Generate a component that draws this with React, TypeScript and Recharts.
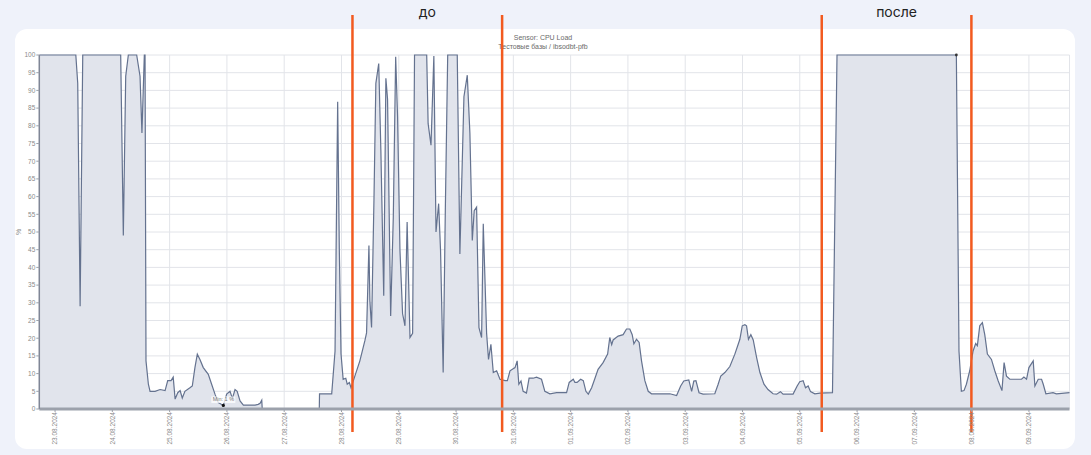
import React from 'react';
import {
  AreaChart,
  Area,
  XAxis,
  YAxis,
  CartesianGrid,
  ReferenceLine,
  ReferenceArea,
  ReferenceDot,
} from 'recharts';

// Hours since 23.08.2024 00:00
const hours: number[] = [
  -6.6, 8.7, 9.5, 10.5, 11.6, 27.5, 28.6, 29.6, 30.7, 34.2, 35.6, 36.4, 37.4, 37.7, 38.1, 39.1, 39.8,
  41.9, 44.0, 46.1, 47.2, 48.6, 49.5, 50.3, 51.4, 52.4, 53.3, 54.4, 56.5, 57.5, 58.6, 59.6, 60.7,
  62.1, 64.2, 65.6, 67.0, 68.4, 70.5, 71.9, 73.3, 74.3, 75.4, 76.3, 77.5, 78.9, 83.8, 85.1, 85.9,
  86.6, 86.8, 98.0, 110.7, 110.8, 115.9, 117.3, 118.4, 119.1, 119.8, 120.7, 121.8, 122.4, 123.3,
  124.0, 125.6, 127.7, 129.8, 130.5, 131.5, 131.9, 132.6, 133.6, 134.4, 135.6, 136.5, 137.7, 138.6,
  139.3, 140.6, 141.7, 142.7, 143.5, 144.5, 145.6, 146.6, 147.5, 148.7, 149.8, 150.6, 155.7, 156.3,
  157.5, 158.7, 159.6, 160.7, 161.5, 162.6, 163.5, 164.5, 168.5, 169.6, 171.3, 172.7, 173.8, 174.8,
  175.6, 176.6, 177.6, 178.7, 179.4, 180.8, 181.6, 182.6, 183.6, 185.0, 186.4, 188.5, 189.5, 190.6,
  192.7, 193.6, 194.3, 195.2, 196.1, 197.5, 198.6, 200.3, 201.7, 203.8, 205.2, 207.3, 210.1, 214.3,
  215.4, 217.1, 217.8, 218.7, 220.2, 221.3, 222.4, 223.4, 224.8, 226.2, 227.5, 229.6, 231.5, 232.4,
  233.2, 233.8, 235.9, 238.0, 239.4, 240.8, 241.8, 242.5, 243.6, 244.7, 245.7, 247.1, 248.5, 249.9,
  257.6, 260.4, 262.1, 263.4, 265.5, 266.7, 267.6, 268.5, 269.8, 271.5, 276.4, 277.8, 278.9, 280.6,
  282.7, 284.8, 286.2, 286.9, 287.9, 289.0, 289.7, 290.5, 291.5, 292.5, 293.9, 295.3, 297.0, 298.7,
  300.8, 302.3, 303.9, 305.0, 309.2, 310.9, 312.0, 313.4, 314.4, 315.5, 316.5, 318.3, 320.4, 325.7,
  327.6, 377.6, 378.7, 379.7, 380.8, 381.8, 383.2, 384.6, 385.7, 386.4, 387.4, 388.5, 389.5, 390.6,
  392.3, 393.7, 395.1, 396.7, 397.6, 398.6, 400.0, 404.9, 405.9, 407.0, 408.0, 409.8, 410.5, 411.9,
  413.3, 414.0, 415.1, 418.1, 419.5, 425.0,
];

// CPU load, %
const cpuLoad: (number | null)[] = [
  100, 100, 92, 29, 100, 100, 49, 94, 100, 100, 94, 78, 100, 100, 13.6, 7, 5,
  5, 5.5, 5.2, 8, 8, 9, 2.8, 4.6, 5.2, 3.1, 5, 6, 6.5, 11.7, 15.5, 14,
  11.7, 9.8, 7, 4.2, 1.8, 1, 4.2, 5, 3, 5.5, 5, 2.3, 1.1, 1.1, 1.3, 1.6,
  2.5, 0, null, 0, 4.3, 4.3, 16.4, 86.8, 44.8, 15.6, 8.4, 8.7, 7, 7.5,
  6, 9.3, 13.6, 19.3, 21.5, 46.2, 30.6, 23, 59, 92, 97.6, 73, 32, 93.4,
  87.5, 26.3, 54, 99.5, 82.5, 44.8, 26.9, 23.5, 52.8, 20.2, 21.4, 100, 100, 80.6,
  74.5, 99.7, 50, 58, 44.8, 10.3, 56, 100, 100, 43.8, 88.2, 94.3, 77.8, 47.6,
  56, 57, 23, 20.2, 52.3, 21.4, 14, 18.3, 10.3, 10.8, 8.4, 8, 8, 10.8,
  11.7, 13.6, 7, 7.9, 5, 4.5, 8.7, 8.7, 9, 8.4, 5, 4.3, 4.6, 4.6,
  7.5, 8.4, 7.5, 7.5, 8.4, 8, 5, 4.2, 6, 8.7, 11.2, 13.1, 15.5, 20.2,
  18.2, 19.5, 20.6, 21, 22.6, 22.6, 21, 18.4, 19.7, 18.8, 13.6, 8, 5, 4.3,
  4.3, 3.8, 6.5, 7.9, 8.2, 5, 7.9, 8, 4.6, 4.2, 4.3, 7, 9.3, 10.3,
  12, 15.5, 18.3, 19.7, 23.5, 23.8, 23.5, 19.7, 21, 19.5, 14.6, 10.3, 7, 5.5,
  4.3, 4.2, 4.9, 4.2, 4.2, 6.5, 7.7, 8, 6, 6.5, 4.9, 4.3, 4.5, 4.6,
  100, 100, 16.4, 5, 5.2, 7, 10.8, 16.4, 18.5, 17.9, 23.5, 24.4, 21, 15.5,
  14, 10.8, 8, 5.2, 13.1, 9.3, 8.4, 8.4, 9, 8.4, 11.7, 13.6, 6.5, 8.4,
  8.4, 7, 4.3, 4.6, 4.3, 4.6,
];

const dateLabels: string[] = [
  '23.08.2024', '24.08.2024', '25.08.2024', '26.08.2024', '27.08.2024', '28.08.2024',
  '29.08.2024', '30.08.2024', '31.08.2024', '01.09.2024', '02.09.2024', '03.09.2024',
  '04.09.2024', '05.09.2024', '06.09.2024', '07.09.2024', '08.09.2024', '09.09.2024',
];
const dateTickHours: number[] = [0, 24, 48, 72, 96, 120, 144, 168, 192, 216, 240, 264, 288, 312, 336, 360, 384, 408];

const yTicks: number[] = [0, 5, 10, 15, 20, 25, 30, 35, 40, 45, 50, 55, 60, 65, 70, 75, 80, 85, 90, 95, 100];

// Annotation markers (hours)
const markerHours: number[] = [124.6, 187.3, 321.2, 383.9];
const periodLabels = [
  { from: 124.6, to: 187.3, text: 'до' },
  { from: 321.2, to: 383.9, text: 'после' },
];
const minPoint = { h: 70.5, v: 1, label: 'Min: 1 %' };
const maxPoint = { h: 377.6, v: 100 };

const data = hours.map((h, i) => ({ h, v: cpuLoad[i] }));

const FONT = '"Liberation Sans", Arial, sans-serif';

const XTick = (props: any) => {
  const { x, y, payload } = props;
  const idx = dateTickHours.indexOf(payload.value);
  const label = idx >= 0 ? dateLabels[idx] : '';
  return (
    <g transform={`translate(${x},${y})`}>
      <text
        x={0}
        y={0}
        dy={2.3}
        transform="rotate(-90)"
        textAnchor="end"
        fontSize={6.5}
        fill="#8a8a8a"
        fontFamily={FONT}
      >
        {label}
      </text>
    </g>
  );
};

const MinLabel = (props: any) => {
  const vb = props.viewBox || {};
  const cx = vb.x + (vb.width || 0) / 2;
  const cy = vb.y + (vb.height || 0) / 2;
  return (
    <g>
      <rect x={cx - 12} y={cy - 9} width={24} height={6.5} fill="#ffffff" fillOpacity={0.75} />
      <text x={cx} y={cy - 4} textAnchor="middle" fontSize={5.5} fill="#777" fontFamily={FONT}>
        {minPoint.label}
      </text>
    </g>
  );
};

export default function App() {
  return (
    <div
      style={{
        position: 'fixed',
        left: 0,
        top: 0,
        width: 1091,
        height: 455,
        background: '#eff2fa',
        overflow: 'hidden',
      }}
    >
      <div
        style={{
          position: 'absolute',
          left: 15,
          top: 29,
          width: 1060,
          height: 420,
          background: '#ffffff',
          borderRadius: 12,
        }}
      />
      <div
        style={{
          position: 'absolute',
          left: 343,
          width: 400,
          top: 33,
          textAlign: 'center',
          fontFamily: FONT,
          fontSize: 7,
          lineHeight: '9px',
          color: '#6a6a6a',
        }}
      >
        <div>Sensor: CPU Load</div>
        <div>Тестовые базы / ibsodbt-pfb</div>
      </div>
      <div style={{ position: 'absolute', left: 0, top: 0 }}>
        <AreaChart
          width={1091}
          height={455}
          data={data}
          margin={{ top: 55, right: 21.5, left: 0, bottom: 0 }}
          style={{ overflow: 'visible' }}
        >
          <CartesianGrid stroke="#e2e4e9" strokeWidth={1} />
          <XAxis
            dataKey="h"
            type="number"
            domain={[-6.6, 425]}
            ticks={dateTickHours}
            tick={<XTick />}
            tickSize={3}
            tickMargin={0}
            height={46}
            axisLine={{ stroke: '#9ca1ab', strokeWidth: 3 }}
            tickLine={{ stroke: '#9ca1ab' }}
            interval={0}
          />
          <YAxis
            type="number"
            domain={[0, 100]}
            ticks={yTicks}
            width={39.3}
            tickSize={3}
            tickMargin={1}
            interval={0}
            tick={{ fontSize: 6.5, fill: '#8a8a8a', fontFamily: FONT }}
            axisLine={{ stroke: '#7f8696', strokeWidth: 1.5 }}
            tickLine={{ stroke: '#9ca1ab' }}
            label={{ value: '%', angle: -90, position: 'center', dx: -1, fontSize: 7, fill: '#8a8a8a', fontFamily: FONT }}
          />
          <Area
            type="linear"
            dataKey="v"
            stroke="#64728f"
            strokeWidth={1.2}
            fill="#e1e4ec"
            fillOpacity={1}
            connectNulls={false}
            dot={false}
            activeDot={false}
            isAnimationActive={false}
          />
          <ReferenceDot
            x={minPoint.h}
            y={minPoint.v}
            r={1.6}
            fill="#111"
            stroke="none"
            ifOverflow="visible"
            label={<MinLabel />}
          />
          <ReferenceDot x={maxPoint.h} y={maxPoint.v} r={1.4} fill="#333" stroke="none" ifOverflow="visible" />
          {markerHours.map((m) => (
            <ReferenceLine
              key={m}
              segment={[
                { x: m, y: 111.3 },
                { x: m, y: -6.5 },
              ]}
              stroke="#f25a1f"
              strokeWidth={2.5}
              ifOverflow="visible"
            />
          ))}
          {periodLabels.map((p) => (
            <ReferenceArea
              key={p.text}
              x1={p.from}
              x2={p.to}
              y1={110}
              y2={114}
              fill="none"
              stroke="none"
              fillOpacity={0}
              ifOverflow="visible"
              label={{ value: p.text, position: 'center', fontSize: 14, fill: '#222', fontFamily: 'Inter, "Noto Sans", sans-serif' }}
            />
          ))}
        </AreaChart>
      </div>
    </div>
  );
}
